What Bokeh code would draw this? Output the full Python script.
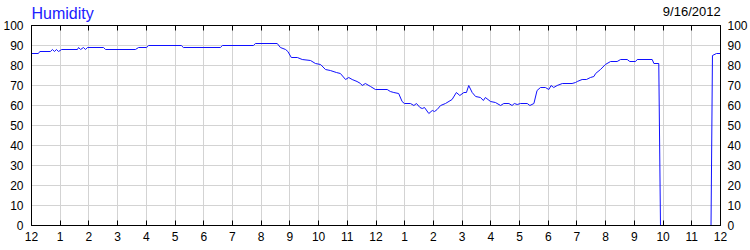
from bokeh.plotting import figure
from bokeh.models import LinearAxis, FixedTicker, Range1d
from bokeh.embed import file_html
from bokeh.resources import INLINE

# time of day in hours since midnight
hours = [
    0.00, 0.24, 0.29, 0.66, 0.73, 0.80, 0.87, 0.94, 1.05, 1.60,
    1.64, 1.71, 1.81, 1.88, 1.95, 2.51, 2.58, 3.62, 3.73, 4.01,
    4.08, 5.22, 5.29, 6.58, 6.65, 7.73, 7.80, 8.56, 8.67, 8.85,
    8.93, 9.05, 9.26, 9.43, 9.72, 9.89, 10.07, 10.24, 10.41, 10.62,
    10.76, 10.94, 11.05, 11.17, 11.34, 11.46, 11.52, 11.63, 11.81, 11.98,
    12.39, 12.50, 12.62, 12.79, 12.91, 12.99, 13.20, 13.32, 13.41, 13.53,
    13.61, 13.69, 13.84, 13.96, 14.04, 14.13, 14.25, 14.42, 14.65, 14.80,
    14.92, 15.06, 15.15, 15.23, 15.35, 15.47, 15.64, 15.74, 15.81, 15.99,
    16.16, 16.34, 16.45, 16.63, 16.74, 16.82, 16.92, 17.03, 17.27, 17.36,
    17.50, 17.61, 17.73, 17.90, 18.02, 18.10, 18.19, 18.31, 18.49, 18.83,
    18.95, 19.01, 19.18, 19.33, 19.47, 19.59, 19.65, 19.82, 19.99, 20.17,
    20.40, 20.52, 20.75, 20.84, 21.04, 21.10, 21.62, 21.68, 21.85, 21.91,
    23.67, 23.72, 23.86, 24.00,
]
humidity = [
    86, 86, 87, 87, 88, 87, 88, 87, 88, 88,
    89, 88, 89, 88, 89, 89, 88, 88, 89, 89,
    90, 90, 89, 89, 90, 90, 91, 91, 89, 88,
    87, 84, 84, 83, 82.5, 81, 80.5, 78, 77.5, 76.5,
    76, 73, 74, 73, 72, 71, 70, 71, 69.5, 68,
    68, 67, 66.5, 66, 62, 61, 61, 60, 61, 59,
    58.5, 59, 56, 57.5, 57, 58, 60, 61, 63, 66.5,
    65, 66.5, 66.5, 70, 66.5, 64.5, 64, 62.5, 64, 62,
    61.5, 60, 61, 61, 60, 61, 60.5, 61, 61, 60,
    61, 67.5, 69, 69, 68, 70, 69, 70, 71, 71,
    71.5, 72, 73, 73, 74, 74.5, 76, 78, 80.5, 82,
    82, 83, 83, 82, 82, 83, 83, 81, 81, 0,
    0, 85, 86, 86,
]

x_ticks = list(range(25))
x_tick_labels = ["12", "1", "2", "3", "4", "5", "6", "7", "8", "9", "10", "11",
                 "12", "1", "2", "3", "4", "5", "6", "7", "8", "9", "10", "11", "12"]
y_ticks = [0, 10, 20, 30, 40, 50, 60, 70, 80, 90, 100]

title_text = "Humidity"
date_text = "9/16/2012"
date_hour = 23  # the date sits over the 11 PM tick

FONT = "Liberation Sans"

p = figure(width=750, height=250, output_backend="svg", toolbar_location=None,
           x_range=Range1d(0, 24), y_range=Range1d(0, 100),
           min_border_left=31, min_border_right=30, min_border_top=25, min_border_bottom=25,
           background_fill_color="white", border_fill_color="white",
           outline_line_color="black")

xt = FixedTicker(ticks=x_ticks)
yt = FixedTicker(ticks=y_ticks)
overrides = {t: lab for t, lab in zip(x_ticks, x_tick_labels)}

def style(ax, ticker, standoff, tick_in):
    ax.ticker = ticker
    ax.axis_line_color = "black"
    ax.axis_line_width = 1
    ax.major_tick_in = tick_in
    ax.major_tick_out = 0
    ax.major_tick_line_color = "black" if tick_in else None
    ax.minor_tick_line_color = None
    ax.major_label_standoff = standoff
    ax.major_label_text_font = FONT
    ax.major_label_text_font_size = "12px"
    ax.major_label_text_color = "black"

# bottom axis
style(p.xaxis[0], xt, 6, 5)
p.xaxis[0].major_label_overrides = overrides
# left axis
style(p.yaxis[0], yt, 8, 0)
# top axis: ticks, the date as the one tick label, the title as axis label
top = LinearAxis()
style(top, xt, 7, 5)
top.major_label_text_font_size = "13px"
top.major_label_overrides = {t: (date_text if t == date_hour else "") for t in x_ticks}
# the axis label is centred on the frame's left edge; leading no-break
# spaces move the visible word to just inside the frame, as in the reference
top.axis_label = "\u00a0" * 14 + title_text
top.axis_label_text_font = FONT
top.axis_label_text_font_size = "16px"
top.axis_label_text_font_style = "normal"
top.axis_label_text_color = "#2020ff"
top.axis_label_standoff = -21
try:
    top.axis_label_align = "left"
except Exception:
    top.axis_label_align = "start"
p.add_layout(top, "above")
# right axis
right = LinearAxis()
style(right, yt, 7, 0)
p.add_layout(right, "right")

p.xgrid.ticker = xt
p.ygrid.ticker = yt
p.xgrid.grid_line_color = "#d3d3d3"
p.ygrid.grid_line_color = "#d3d3d3"

p.line(hours, humidity, line_color="#1010ff", line_width=1)

open("out.html", "w").write(file_html(p, INLINE))
